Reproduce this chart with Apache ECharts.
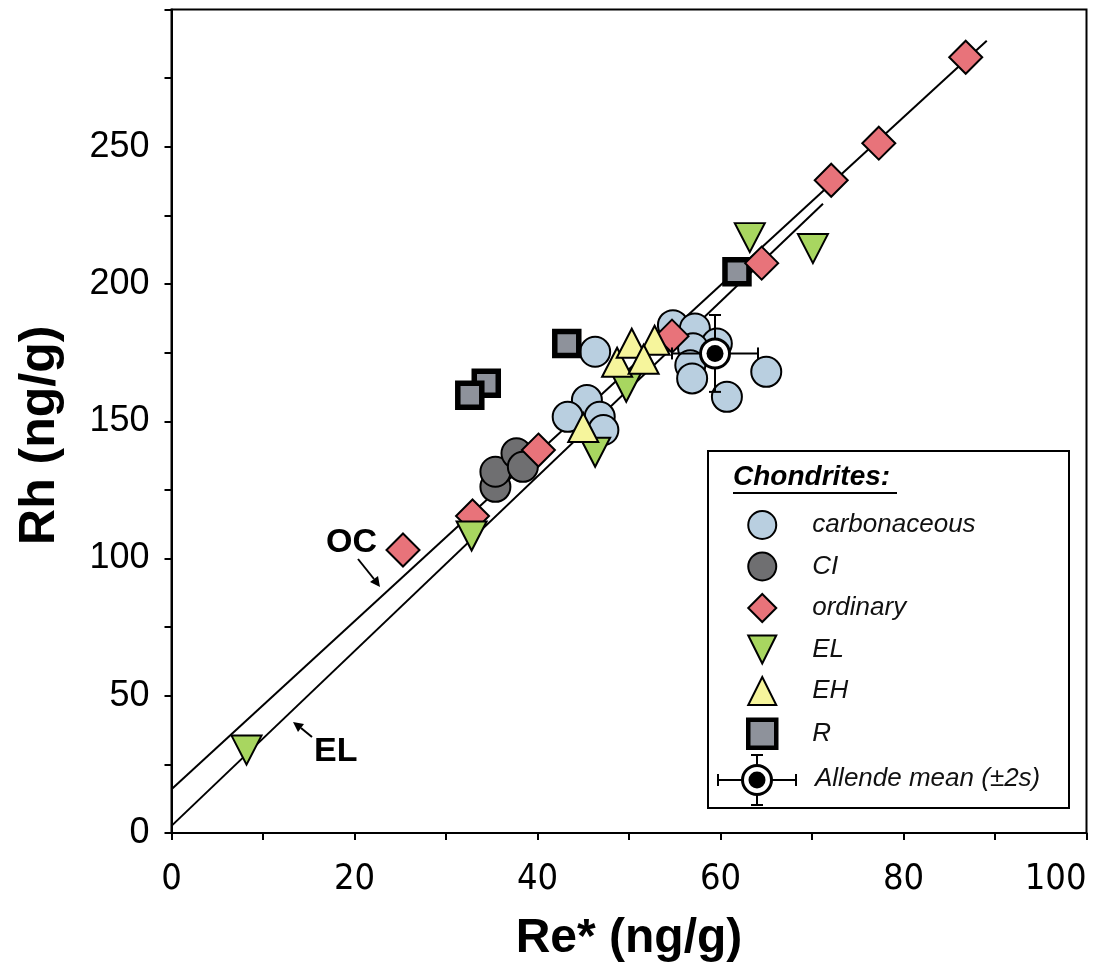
<!DOCTYPE html>
<html>
<head>
<meta charset="utf-8">
<script src="https://cdn.jsdelivr.net/npm/echarts@6/dist/echarts.min.js"></script>
<style>html,body{margin:0;padding:0;background:#fff}#c{width:1113px;height:971px}</style>
</head>
<body>
<div id="c"></div>
<script>
// ---- data (Re* ng/g, Rh ng/g) ----
const carbonaceous = [[46.3,175.3],[45.4,157.7],[43.3,151.6],[46.8,151.6],[47.2,146.8],[54.8,185.0],[57.2,183.8],[59.6,178.3],[57.0,176.6],[56.7,170.4],[56.9,165.6],[65.0,168.0],[60.7,158.9]];
const ci = [[35.4,126.1],[35.4,131.6],[37.7,138.3],[38.4,133.4]];
const ordinary = [[86.8,282.6],[77.3,251.3],[72.1,237.8],[64.5,207.6],[54.7,181.0],[40.1,139.5],[32.9,115.5],[25.3,103.1]];
const el = [[8.2,30.2],[32.8,108.2],[46.3,138.7],[49.7,162.4],[63.2,216.9],[70.1,212.9]];
const eh = [[48.7,171.5],[50.3,178.4],[52.8,179.5],[51.6,172.6],[45.0,147.7]];
const rGroup = [[34.4,163.8],[32.6,159.5],[43.2,178.3],[61.8,204.5]];
const allendeMean = [[59.4,174.7]];
const allendeErr = [4.7, 14];
const ocLine = [[0,15.9],[89.1,288.6]];
const elLine = [[0,2.6],[71.2,229.2]];
const xTicks = [0,20,40,60,80,100];
const yTicks = [0,50,100,150,200,250];

const FONT = "'Liberation Sans', Arial, sans-serif";
const COND = "'DejaVu Sans Condensed', 'Liberation Sans', Arial, sans-serif";
const C_CARB = '#b9cfe0', C_CI = '#6f6f71', C_ORD = '#e8737a', C_EL = '#a8d660', C_EH = '#f6f59c', C_R = '#8e929b';
const downTri = 'path://M0,0L10,0L5,10Z';

const chart = echarts.init(document.getElementById('c'), null, {renderer:'canvas'});

function scatter(name, data, symbol, size, color, bw, z) {
  return {
    name, type:'scatter', data, symbol, symbolSize:size, z,
    itemStyle:{color, borderColor:'#000', borderWidth:bw, opacity:1},
    emphasis:{disabled:true}, silent:true
  };
}

const option = {
  animation:false,
  backgroundColor:'#fff',
  grid:{left:171.5, right:26.5, top:9.5, bottom:138, containLabel:false, outerBoundsMode:'none',
        show:true, borderColor:'#000', borderWidth:2, backgroundColor:'transparent'},
  xAxis:{
    type:'value', min:0, max:100, interval:20,
    name:'Re* (ng/g)', nameLocation:'middle', nameGap:82,
    nameTextStyle:{fontFamily:FONT, fontSize:48, fontWeight:'bold', color:'#000'},
    axisLine:{show:true, onZero:false, lineStyle:{color:'#000', width:2}},
    axisTick:{show:true, inside:false, length:7, lineStyle:{color:'#000', width:2}},
    minorTick:{show:true, splitNumber:2, length:7, lineStyle:{color:'#000', width:2}},
    splitLine:{show:false},
    axisLabel:{fontFamily:COND, fontSize:36, color:'#000', margin:29, alignMaxLabel:'right',
      formatter:v=> xTicks.includes(v) ? String(v) : ''}
  },
  yAxis:{
    type:'value', min:0, max:300, interval:50,
    name:'Rh (ng/g)', nameLocation:'middle', nameGap:106, nameRotate:90,
    nameTextStyle:{fontFamily:FONT, fontSize:50, fontWeight:'bold', color:'#000', padding:[0,28,0,0]},
    axisLine:{show:true, onZero:false, lineStyle:{color:'#000', width:2}},
    axisTick:{show:true, inside:false, length:7, lineStyle:{color:'#000', width:2}},
    minorTick:{show:true, splitNumber:2, length:7, lineStyle:{color:'#000', width:2}},
    splitLine:{show:false},
    axisLabel:{fontFamily:FONT, fontSize:36, color:'#000', margin:22,
      formatter:v=> yTicks.includes(v) ? String(v) : ''}
  },
  legend:{
    orient:'vertical', left:741, top:505, itemGap:11.5, itemWidth:28, itemHeight:28,
    selectedMode:false,
    textStyle:{fontFamily:FONT, fontSize:26, fontStyle:'italic', color:'#111', padding:[0,0,0,31]},
    data:[
      {name:'carbonaceous', icon:'circle', itemStyle:{color:C_CARB, borderColor:'#000', borderWidth:2}},
      {name:'CI', icon:'circle', itemStyle:{color:C_CI, borderColor:'#000', borderWidth:2}},
      {name:'ordinary', icon:'diamond', itemStyle:{color:C_ORD, borderColor:'#000', borderWidth:2}},
      {name:'EL', icon:downTri, itemStyle:{color:C_EL, borderColor:'#000', borderWidth:2}},
      {name:'EH', icon:'triangle', itemStyle:{color:C_EH, borderColor:'#000', borderWidth:2}},
      {name:'R', icon:'rect', itemStyle:{color:C_R, borderColor:'#000', borderWidth:4.5}}
    ]
  },
  series:[
    {name:'OC fit', type:'line', data:ocLine, showSymbol:false, symbol:'none', z:1, silent:true,
     lineStyle:{color:'#000', width:2}},
    {name:'EL fit', type:'line', data:elLine, showSymbol:false, symbol:'none', z:1, silent:true,
     lineStyle:{color:'#000', width:2}},
    scatter('CI', ci, 'circle', 30, C_CI, 2, 2),
    scatter('carbonaceous', carbonaceous, 'circle', 30, C_CARB, 2, 2),
    scatter('R', rGroup, 'rect', 24, C_R, 5.5, 2),
    scatter('ordinary', ordinary, 'diamond', 33, C_ORD, 2, 2),
    scatter('EL', el, downTri, [30,29], C_EL, 2, 2),
    scatter('EH', eh, 'triangle', [30,29], C_EH, 2, 2),
    {
      name:'Allende mean (±2s)', type:'custom', data:allendeMean, z:3, silent:true,
      renderItem:function(params, api){
        const x = api.value(0), y = api.value(1);
        const c = api.coord([x,y]);
        const l = api.coord([x-allendeErr[0], y]);
        const r = api.coord([x+allendeErr[0], y]);
        const t = api.coord([x, y+allendeErr[1]]);
        const b = api.coord([x, y-allendeErr[1]]);
        const ls = {stroke:'#000', lineWidth:2};
        const cap = 6;
        return {type:'group', children:[
          {type:'line', shape:{x1:l[0],y1:c[1],x2:r[0],y2:c[1]}, style:ls},
          {type:'line', shape:{x1:l[0],y1:c[1]-cap,x2:l[0],y2:c[1]+cap}, style:ls},
          {type:'line', shape:{x1:r[0],y1:c[1]-cap,x2:r[0],y2:c[1]+cap}, style:ls},
          {type:'line', shape:{x1:c[0],y1:t[1],x2:c[0],y2:b[1]}, style:ls},
          {type:'line', shape:{x1:c[0]-cap,y1:t[1],x2:c[0]+cap,y2:t[1]}, style:ls},
          {type:'line', shape:{x1:c[0]-cap,y1:b[1],x2:c[0]+cap,y2:b[1]}, style:ls},
          {type:'circle', shape:{cx:c[0],cy:c[1],r:14.5}, style:{fill:'#fff', stroke:'#000', lineWidth:3}},
          {type:'circle', shape:{cx:c[0],cy:c[1],r:8.5}, style:{fill:'#000'}}
        ]};
      }
    }
  ],
  graphic:[
    {type:'rect', z:0, shape:{x:708, y:451, width:361, height:357}, style:{fill:'#fff', stroke:'#000', lineWidth:2}, silent:true},
    {type:'text', z:5, left:733, top:463, style:{text:'Chondrites:', fontFamily:FONT, fontSize:28, fontWeight:'bold', fontStyle:'italic', fill:'#000'}},
    {type:'line', z:5, shape:{x1:733, y1:493, x2:897, y2:493}, style:{stroke:'#000', lineWidth:2}},
    // Allende legend entry
    {type:'group', z:5, x:757, y:780, children:[
      {type:'line', shape:{x1:-39,y1:0,x2:39,y2:0}, style:{stroke:'#000', lineWidth:2}},
      {type:'line', shape:{x1:-39,y1:-6,x2:-39,y2:6}, style:{stroke:'#000', lineWidth:2}},
      {type:'line', shape:{x1:39,y1:-6,x2:39,y2:6}, style:{stroke:'#000', lineWidth:2}},
      {type:'line', shape:{x1:0,y1:-25,x2:0,y2:25}, style:{stroke:'#000', lineWidth:2}},
      {type:'line', shape:{x1:-6,y1:-25,x2:6,y2:-25}, style:{stroke:'#000', lineWidth:2}},
      {type:'line', shape:{x1:-6,y1:25,x2:6,y2:25}, style:{stroke:'#000', lineWidth:2}},
      {type:'circle', shape:{cx:0,cy:0,r:14.5}, style:{fill:'#fff', stroke:'#000', lineWidth:3}},
      {type:'circle', shape:{cx:0,cy:0,r:8.5}, style:{fill:'#000'}}
    ]},
    {type:'text', z:5, left:815, top:766, style:{text:'Allende mean (±2s)', fontFamily:FONT, fontSize:26, fontStyle:'italic', fill:'#111'}},
    // OC annotation
    {type:'text', z:5, left:326, top:526, style:{text:'OC', fontFamily:FONT, fontSize:34, fontWeight:'bold', fill:'#000'}},
    {type:'line', z:5, shape:{x1:358,y1:559,x2:374,y2:579}, style:{stroke:'#000', lineWidth:2}},
    {type:'polygon', z:5, shape:{points:[[380,587],[370,582],[378,576]]}, style:{fill:'#000'}},
    // EL annotation
    {type:'text', z:5, left:314, top:735, style:{text:'EL', fontFamily:FONT, fontSize:34, fontWeight:'bold', fill:'#000'}},
    {type:'line', z:5, shape:{x1:312,y1:737,x2:301,y2:728}, style:{stroke:'#000', lineWidth:2}},
    {type:'polygon', z:5, shape:{points:[[293,722],[304,724],[298,732]]}, style:{fill:'#000'}}
  ]
};
chart.setOption(option);
</script>
</body>
</html>
